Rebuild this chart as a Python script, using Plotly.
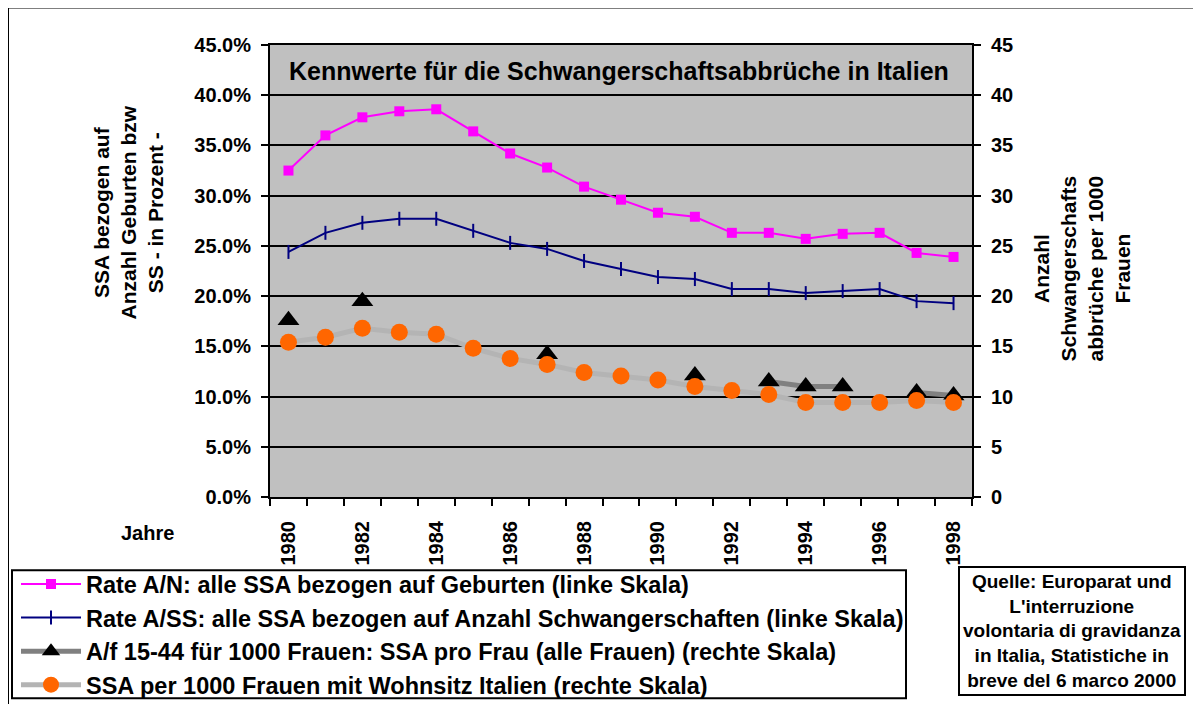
import plotly.graph_objects as go

years = list(range(1980, 1999))
year_labels = [str(y) if y % 2 == 0 else "" for y in years]

rate_an = [0.325, 0.360, 0.378, 0.384, 0.386, 0.364, 0.342, 0.328, 0.309, 0.296,
           0.283, 0.279, 0.263, 0.263, 0.257, 0.262, 0.263, 0.243, 0.239]
rate_ass = [0.244, 0.263, 0.273, 0.277, 0.277, 0.265, 0.253, 0.247, 0.235, 0.227,
            0.219, 0.217, 0.207, 0.207, 0.203, 0.205, 0.207, 0.195, 0.193]
af_1544 = [17.6, None, 19.5, None, None, None, None, 14.2, None, None,
           None, 12.1, None, 11.5, 11.0, 11.0, None, 10.4, 10.1]
ssa_italien = [15.4, 15.9, 16.8, 16.4, 16.2, 14.8, 13.8, 13.2, 12.4, 12.05,
               11.65, 11.0, 10.6, 10.2, 9.4, 9.4, 9.4, 9.6, 9.4]

names = [
    "Rate A/N: alle SSA bezogen auf Geburten (linke Skala)",
    "Rate A/SS: alle SSA bezogen auf Anzahl Schwangerschaften (linke Skala)",
    "A/f 15-44 für 1000 Frauen: SSA pro Frau (alle Frauen) (rechte Skala)",
    "SSA per 1000 Frauen mit Wohnsitz Italien (rechte Skala)",
]

FONT = "Liberation Sans, Arial, sans-serif"

# The page body has an 8px margin; work in page pixels and convert.
OFF = 8
W, H = 1201, 704
PL, PR, PT, PB = 270.0 - OFF, 972.0 - OFF, 44.5 - OFF, 496.7 - OFF
def px(x):
    return (x - OFF - PL) / (PR - PL)
def py(y):
    return (PB - (y - OFF)) / (PB - PT)

fig = go.Figure()
fig.add_trace(go.Scatter(
    x=years, y=rate_an, name=names[0], mode="lines+markers", legendgroup="a",
    line=dict(color="#ff00ff", width=2),
    marker=dict(symbol="square", size=10, color="#ff00ff"),
))
fig.add_trace(go.Scatter(
    x=years, y=rate_ass, name=names[1], mode="lines+markers", legendgroup="b",
    line=dict(color="#000080", width=2),
    marker=dict(symbol="line-ns", size=10, color="#000080",
                line=dict(color="#000080", width=2)),
))
fig.add_trace(go.Scatter(
    x=years, y=af_1544, name=names[2], mode="lines+markers", yaxis="y2",
    legendgroup="c", connectgaps=False,
    line=dict(color="#808080", width=5),
    marker=dict(symbol="triangle-up", size=19, color="#000000"),
))
fig.add_trace(go.Scatter(
    x=years, y=ssa_italien, name=names[3], mode="lines+markers", yaxis="y2",
    legendgroup="d",
    line=dict(color="#b4b4b4", width=5),
    marker=dict(symbol="circle", size=17, color="#ff6600"),
))

tick_font = dict(family=FONT, size=20, color="black", weight="bold")

fig.update_layout(
    width=W, height=H,
    margin=dict(l=PL, r=W - PR, t=PT, b=H - PB, pad=0, autoexpand=False),
    paper_bgcolor="white",
    plot_bgcolor="#c0c0c0",
    font=dict(family=FONT, color="black"),
    showlegend=True,
    xaxis=dict(
        range=[1979.5, 1998.5],
        tickmode="array", tickvals=years, ticktext=year_labels,
        ticks="", tickangle=-90, tickfont=tick_font,
        ticklabelstandoff=14,
        showgrid=False, zeroline=False,
        showline=True, linecolor="black", linewidth=2, mirror=True,
        minor=dict(tickmode="array",
                   tickvals=[y - 0.5 for y in years] + [1998.5],
                   ticks="outside", ticklen=7, tickwidth=2, tickcolor="black",
                   showgrid=False),
    ),
    yaxis=dict(
        range=[0, 0.45], dtick=0.05, tickformat=".1%",
        ticks="outside", ticklen=7, tickwidth=2, tickcolor="black",
        tickfont=tick_font, ticklabelstandoff=6,
        showgrid=True, gridcolor="black", gridwidth=2,
        zeroline=False,
        showline=True, linecolor="black", linewidth=2,
    ),
    yaxis2=dict(
        range=[0, 45], dtick=5, overlaying="y", side="right",
        ticks="outside", ticklen=7, tickwidth=2, tickcolor="black",
        tickfont=tick_font, ticklabelstandoff=6,
        showgrid=False, zeroline=False,
        showline=True, linecolor="black", linewidth=2,
    ),
    legend=dict(
        x=px(16), y=py(562), xanchor="left", yanchor="top",
        bgcolor="rgba(0,0,0,0)", borderwidth=0,
        font=dict(family=FONT, size=23.5, color="black", weight="bold"),
        tracegroupgap=0, traceorder="normal",
        itemsizing="trace", itemwidth=60,
    ),
    shapes=[
        dict(type="rect", xref="paper", yref="paper",
             x0=px(8), x1=px(1230), y0=py(730), y1=py(7),
             line=dict(color="black", width=2), fillcolor="rgba(0,0,0,0)",
             layer="below"),
        dict(type="rect", xref="paper", yref="paper",
             x0=px(12), x1=px(906), y0=py(698), y1=py(570),
             line=dict(color="black", width=2), fillcolor="white",
             layer="below"),
    ],
    annotations=[
        dict(text="Kennwerte für die Schwangerschaftsabbrüche in Italien",
             x=px(619), y=py(71), xref="paper", yref="paper",
             showarrow=False, xanchor="center", yanchor="middle",
             font=dict(family=FONT, size=25, color="black", weight="bold")),
        dict(text="Jahre", x=px(147), y=py(533), xref="paper", yref="paper",
             showarrow=False, xanchor="center", yanchor="middle",
             font=dict(family=FONT, size=20, color="black", weight="bold")),
        dict(text="SSA bezogen auf<br>Anzahl Geburten bzw<br>SS - in Prozent -",
             x=px(129), y=py(212), xref="paper", yref="paper",
             showarrow=False, xanchor="center", yanchor="middle",
             textangle=-90, align="center",
             font=dict(family=FONT, size=21, color="black", weight="bold")),
        dict(text="Anzahl<br>Schwangerschafts<br>abbrüche per 1000<br>Frauen",
             x=px(1082), y=py(268), xref="paper", yref="paper",
             showarrow=False, xanchor="center", yanchor="middle",
             textangle=-90, align="center",
             font=dict(family=FONT, size=21, color="black", weight="bold")),
        dict(text="Quelle: Europarat und<br>L'interruzione<br>volontaria di gravidanza<br>in Italia, Statistiche in<br>breve del 6 marco 2000",
             x=px(1072), y=py(631), xref="paper", yref="paper",
             showarrow=False, xanchor="center", yanchor="middle",
             align="center", bgcolor="white", bordercolor="black",
             borderwidth=2, borderpad=3,
             font=dict(family=FONT, size=19, color="black", weight="bold")),
    ],
)

fig.write_html("out.html")
